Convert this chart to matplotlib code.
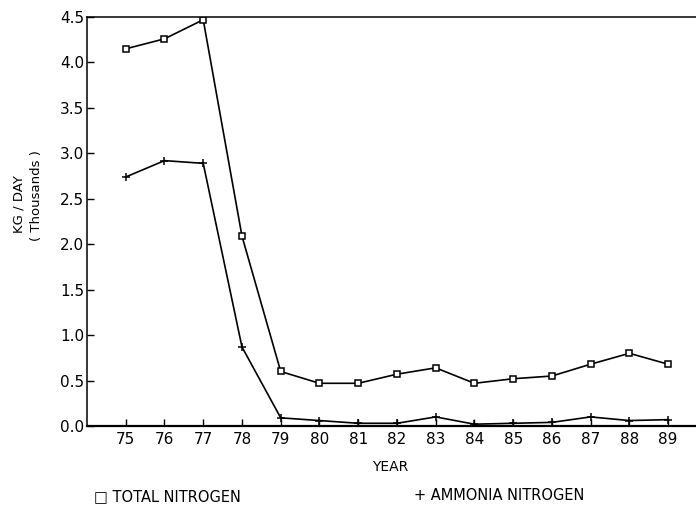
import matplotlib
matplotlib.use("Agg")
import matplotlib.pyplot as plt

years = [75, 76, 77, 78, 79, 80, 81, 82, 83, 84, 85, 86, 87, 88, 89]
total_nitrogen = [4.15, 4.26, 4.47, 2.09, 0.60, 0.47, 0.47, 0.57, 0.64, 0.47, 0.52, 0.55, 0.68, 0.80, 0.68]
ammonia_nitrogen = [2.74, 2.92, 2.89, 0.87, 0.09, 0.06, 0.03, 0.03, 0.10, 0.02, 0.03, 0.04, 0.10, 0.06, 0.07]
yticks = [0.0, 0.5, 1.0, 1.5, 2.0, 2.5, 3.0, 3.5, 4.0, 4.5]

plt.rcParams['font.family'] = ['DejaVu Sans']
fig = plt.figure(figsize=(6.96, 5.08), dpi=100)
ax = fig.add_axes([0.125, 0.1614, 0.875, 0.8051])

ax.plot(years, total_nitrogen, color='black', lw=1.2, marker='s', ms=5,
        mfc='white', mec='black', mew=1.1)
ax.plot(years, ammonia_nitrogen, color='black', lw=1.2, marker='+', ms=6, mew=1.1)

ax.set_xlim(74.0, 89.72)
ax.set_ylim(0, 4.5)
ax.set_xticks(years)
ax.set_xticklabels([str(y) for y in years])
ax.set_yticks(yticks)
ax.set_yticklabels([f"{v:.1f}" for v in yticks])
ax.tick_params(axis='both', direction='in', length=5, width=1, labelsize=11, colors='black')
ax.tick_params(axis='x', pad=4)
ax.tick_params(axis='y', pad=2)

ax.spines['right'].set_visible(False)
for s in ['left', 'bottom', 'top']:
    ax.spines[s].set_linewidth(1.1)
ax.spines['bottom'].set_linewidth(1.6)

fig.text(0.027, 0.598, "KG / DAY", rotation=90, ha='center', va='center', fontsize=9.5)
fig.text(0.052, 0.616, "( Thousands )", rotation=90, ha='center', va='center', fontsize=9.5)
fig.text(0.56, 0.081, "YEAR", ha='center', va='center', fontsize=10)
fig.text(0.135, 0.022, "\u25a1 TOTAL NITROGEN", ha='left', va='center', fontsize=10.5)
fig.text(0.595, 0.025, "+ AMMONIA NITROGEN", ha='left', va='center', fontsize=10.5)

fig.savefig("out.png", dpi=100)
